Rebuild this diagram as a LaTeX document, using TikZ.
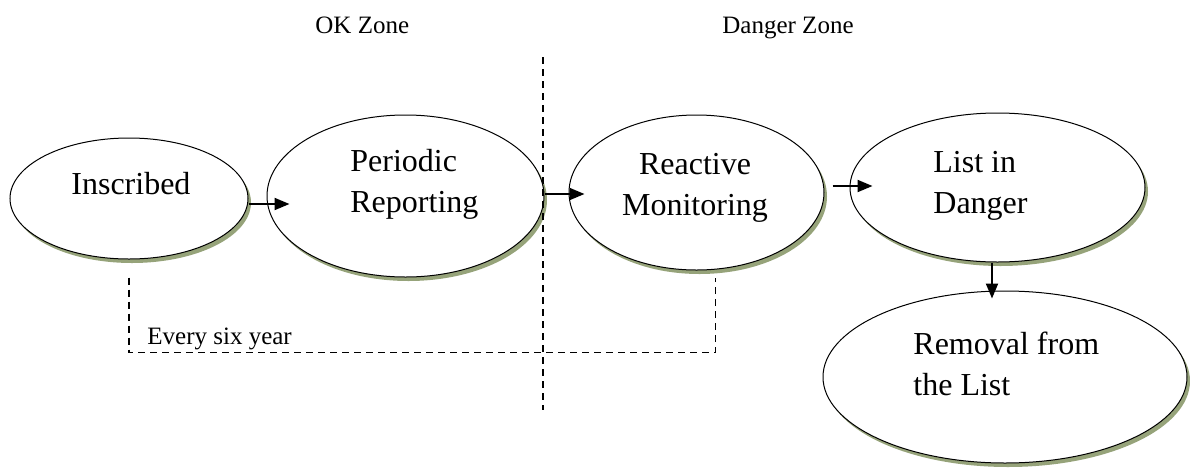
\documentclass[tikz,border=0pt]{standalone}
\usepackage{fontspec}
\setmainfont{Liberation Serif}
\usetikzlibrary{arrows.meta,shapes.geometric,shadows}
\definecolor{shadowolive}{RGB}{150,163,122}

\begin{document}
\begin{tikzpicture}
  [x=0.5pt,y=-0.5pt,
   state/.style={ellipse,draw,line width=0.5pt,fill=white,inner sep=0pt,
                 drop shadow={shadow xshift=1.5pt,shadow yshift=-2pt,
                              fill=shadowolive,opacity=1}},
   caption/.style={anchor=base west,align=left,inner sep=0pt,
                   font=\fontsize{16}{20.5}\selectfont},
   zone/.style={anchor=base west,inner sep=0pt,
                font=\fontsize{12.5}{15}\selectfont},
   flow/.style={-{Triangle[length=7.5pt,width=6pt]},line width=1pt},
   split/.style={line width=0.7pt,dash pattern=on 3.5pt off 2.5pt}]
  \useasboundingbox (0,0) rectangle (1190,467);

  \node[state,minimum width=119pt,minimum height=60.5pt] (inscribed) at (129,198.5) {};
  \node[state,minimum width=138.5pt,minimum height=81pt] (periodic) at (405.5,196) {};
  \node[state,minimum width=127.5pt,minimum height=77.5pt] (reactive) at (696.5,192.5) {};
  \node[state,minimum width=147.5pt,minimum height=74.5pt] (danger) at (997.5,187.5) {};
  \node[state,minimum width=182pt,minimum height=86pt] (removal) at (1005,377) {};

  % the base anchor sits on the last line
  \node[caption] (inscribedtext) at (71,194) {Inscribed};
  \node[caption] (periodictext) at (350,212) {Periodic\\Reporting};
  \node[caption,anchor=base,align=center] (reactivetext) at (695,215) {Reactive\\Monitoring};
  \node[caption] (dangertext) at (933,213) {List in\\Danger};
  \node[caption] (removaltext) at (913,395) {Removal from\\the List};

  \node[zone] (okzone) at (315,33) {OK Zone};
  \node[zone] (dangerzone) at (722,33) {Danger Zone};
  \node[zone] (cycle) at (147,344) {Every six year};

  \coordinate (splittop) at (543,57);
  \coordinate (splitbottom) at (543,410);
  \draw[split] (splittop) -- (splitbottom);

  \draw[flow] ([yshift=-2.75pt]inscribed.east) -- ([xshift=11.5pt,yshift=-4pt]periodic.west);
  \draw[flow] ([yshift=1pt]periodic.east) -- ([xshift=8pt,yshift=-0.75pt]reactive.west);
  \draw[flow] ([xshift=4pt,yshift=3.25pt]reactive.east) -- ([xshift=11.5pt,yshift=0.75pt]danger.west);
  \draw[flow] ([xshift=-2.75pt]danger.south) -- ([xshift=-6.5pt,yshift=-4pt]removal.north);

  \draw[split] ([yshift=-9pt]inscribed.south) -- ++(0,75)
               -| ([xshift=9.5pt,yshift=-3.5pt]reactive.south);
\end{tikzpicture}
\end{document}
